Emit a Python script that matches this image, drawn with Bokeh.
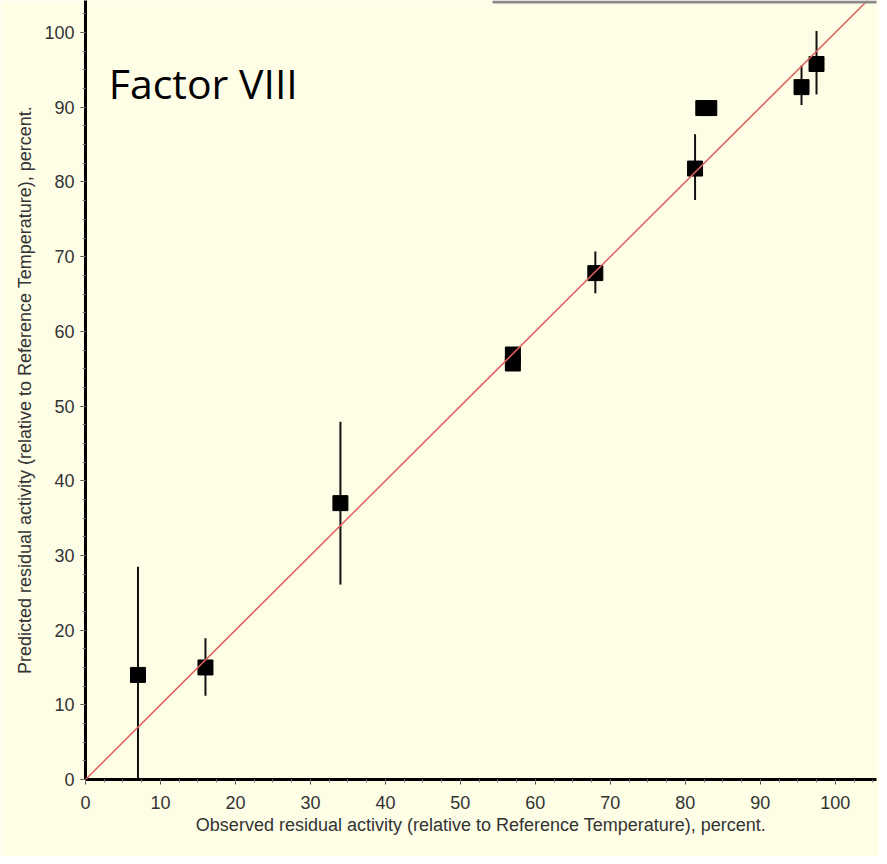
from bokeh.plotting import figure
from bokeh.models import Slope, Label, SingleIntervalTicker, BoxAnnotation, ColumnDataSource
from bokeh.embed import file_html
from bokeh.resources import INLINE

# ---- data ----
observed = [7, 16, 34, 57, 57, 68, 81.3, 82.4, 83.2, 95.5, 97.5]
predicted = [14, 15, 37, 56.9, 55.7, 67.8, 81.8, 89.9, 89.9, 92.7, 95.8]

err_x = [7, 16, 34, 68, 81.3, 95.5, 97.5]
err_low = [0, 11.2, 26.1, 65.1, 77.6, 90.3, 91.7]
err_high = [28.5, 18.9, 47.9, 70.7, 86.4, 95.6, 100.2]

x_ticks_interval = 10
y_ticks_interval = 10
title_text = "Factor VIII"
x_label = "Observed residual activity (relative to Reference Temperature), percent."
y_label = "Predicted residual activity (relative to Reference Temperature), percent."

BG = "#FEFEE7"
TXT = "#333333"

p = figure(width=879, height=856, x_range=(0, 105.5), y_range=(0, 104.3),
           output_backend="svg", toolbar_location=None,
           min_border_left=85, min_border_right=3, min_border_top=0, min_border_bottom=77)
p.background_fill_color = BG
p.border_fill_color = BG
p.outline_line_color = None
p.xgrid.visible = False
p.ygrid.visible = False

for ax, iv in ((p.xaxis[0], x_ticks_interval), (p.yaxis[0], y_ticks_interval)):
    ax.ticker = SingleIntervalTicker(interval=iv, num_minor_ticks=4)
    ax.axis_line_width = 3
    ax.axis_line_color = "black"
    ax.major_tick_in = 0
    ax.major_tick_out = 5
    ax.major_tick_line_color = "#444444"
    ax.minor_tick_in = 0
    ax.minor_tick_out = 3
    ax.minor_tick_line_color = "#777777"
    ax.major_label_text_font = "Liberation Sans"
    ax.major_label_text_font_size = "18px"
    ax.major_label_text_color = TXT
    ax.axis_label_text_font = "Liberation Sans"
    ax.axis_label_text_font_size = "18px"
    ax.axis_label_text_font_style = "normal"
    ax.axis_label_text_color = TXT

p.xaxis.axis_label = x_label
p.yaxis.axis_label = y_label
p.xaxis.major_label_standoff = 11
p.yaxis.major_label_standoff = 6
p.xaxis.axis_label_standoff = 3
p.yaxis.axis_label_standoff = 6

# identity line
p.add_layout(Slope(gradient=1, y_intercept=0, line_color="#E06060", line_width=1.5))

# error bars
esrc = ColumnDataSource(dict(x=err_x, lo=err_low, hi=err_high))
p.segment(x0="x", y0="lo", x1="x", y1="hi", source=esrc, line_color="#111111", line_width=2)

# points
src = ColumnDataSource(dict(x=observed, y=predicted))
p.scatter("x", "y", source=src, marker="square", size=15, fill_color="black", line_color="black")

p.add_layout(Label(x=3.1, y=93.2, text=title_text, text_font="Open Sans", text_font_size="41px",
                   text_color="black", text_baseline="alphabetic"))

# gray edge line at the top right of the reference (frame-relative screen units)
p.add_layout(BoxAnnotation(left=407, right=794, top=779, bottom=776,
                           left_units="screen", right_units="screen",
                           top_units="screen", bottom_units="screen",
                           fill_color="#8a8a8a", fill_alpha=1, line_color=None))

open("out.html", "w").write(file_html(p, INLINE))
